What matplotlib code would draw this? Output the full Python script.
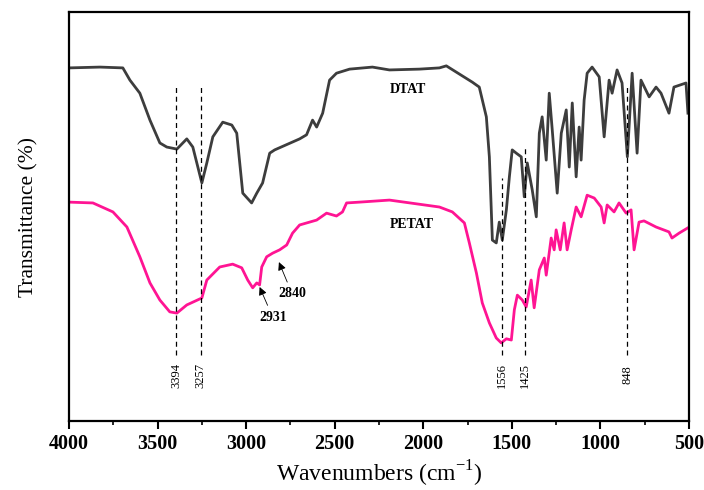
import matplotlib
matplotlib.use("Agg")
import matplotlib.pyplot as plt
from matplotlib.ticker import MultipleLocator

plt.rcParams['font.family'] = ['Liberation Serif', 'DejaVu Serif']

# DTAT spectrum (wavenumber cm-1, transmittance a.u.)
dtat_wn = [4000, 3825, 3696, 3656, 3600, 3543, 3487, 3448, 3391, 3335, 3301, 3250, 3222, 3188,
           3132, 3081, 3053, 3019, 2969, 2940, 2907, 2867, 2839, 2698, 2659, 2625, 2602, 2568,
           2529, 2490, 2416, 2287, 2191, 2022, 1909, 1870, 1723, 1684, 1644, 1627, 1610, 1588,
           1571, 1554, 1531, 1514, 1498, 1475, 1447, 1430, 1413, 1385, 1362, 1345, 1329, 1306,
           1289, 1272, 1244, 1221, 1193, 1176, 1159, 1137, 1120, 1109, 1092, 1075, 1047, 1007,
           979, 951, 934, 906, 878, 848, 821, 793, 771, 725, 686, 658, 613, 585, 517, 506]
dtat_t = [86.3, 86.5, 86.3, 83.3, 80.1, 73.5, 67.9, 66.9, 66.4, 68.9, 66.9, 58.1, 63.0, 69.4,
          73.0, 72.3, 70.3, 55.6, 53.2, 55.6, 58.1, 65.4, 66.2, 68.9, 69.9, 73.5, 71.8, 75.2,
          83.3, 85.0, 86.0, 86.5, 85.8, 86.0, 86.3, 86.8, 82.8, 81.6, 74.3, 64.5, 44.1, 43.4,
          48.5, 44.1, 51.5, 59.6, 66.2, 65.4, 64.5, 54.7, 63.0, 56.4, 49.8, 70.3, 74.3, 63.7,
          80.1, 71.1, 55.6, 70.3, 76.0, 62.0, 77.7, 59.6, 71.8, 63.7, 78.4, 85.0, 86.5, 84.1,
          69.4, 83.3, 80.1, 85.8, 82.6, 64.5, 85.0, 65.4, 83.3, 79.2, 81.6, 80.1, 75.2, 81.6,
          82.6, 75.2]

# PETAT spectrum
petat_wn = [4000, 3865, 3752, 3673, 3600, 3543, 3487, 3431, 3391, 3335, 3250, 3222, 3149, 3076,
            3025, 2991, 2963, 2940, 2924, 2912, 2884, 2850, 2811, 2771, 2738, 2698, 2602, 2546,
            2490, 2456, 2433, 2360, 2191, 1909, 1836, 1768, 1740, 1700, 1667, 1627, 1588, 1560,
            1531, 1503, 1486, 1469, 1441, 1419, 1391, 1374, 1345, 1317, 1306, 1278, 1261, 1250,
            1227, 1205, 1188, 1165, 1137, 1109, 1075, 1035, 996, 979, 962, 923, 895, 855, 827,
            810, 782, 754, 686, 613, 596, 556, 506]
petat_t = [53.4, 53.2, 51.0, 47.3, 40.0, 33.6, 29.4, 26.5, 26.2, 28.2, 29.9, 34.3, 37.5, 38.2,
           37.3, 34.3, 32.4, 33.6, 33.1, 37.5, 40.0, 40.9, 41.7, 42.9, 45.8, 47.8, 49.0, 50.7,
           50.0, 51.0, 53.2, 53.4, 53.9, 52.2, 51.0, 48.3, 43.4, 36.0, 28.7, 23.8, 20.1, 18.9,
           19.9, 19.6, 27.0, 30.6, 29.4, 27.7, 34.3, 27.5, 36.8, 39.7, 35.5, 44.6, 41.7, 46.6,
           41.7, 48.3, 41.7, 46.6, 52.2, 49.8, 55.1, 54.4, 52.2, 48.3, 52.7, 51.0, 53.2, 50.7,
           51.5, 41.7, 48.5, 48.8, 47.3, 46.1, 44.6, 45.8, 47.1]

# Marked peaks: wavenumber, top of dashed line
peak_wn = [3394, 3257, 1556, 1425, 848]
peak_top = [81.9, 81.9, 59.3, 66.9, 81.6]
peak_labels = ['3394', '3257', '1556', '1425', '848']
dash_bottom = 15.9
label_y = 11.0

fig = plt.figure(figsize=(7.04, 4.90), dpi=100)
ax = fig.add_axes([0.098, 0.1408, 0.8807, 0.8347])

ax.plot(dtat_wn, dtat_t, color='#3d3d3d', lw=2.0)
ax.plot(petat_wn, petat_t, color='#ff1493', lw=2.0)

for w, top, lab in zip(peak_wn, peak_top, peak_labels):
    ax.plot([w, w], [dash_bottom, top], color='black', lw=0.9, ls=(0, (4, 3)))
    ax.text(w, label_y, lab, rotation=90, ha='center', va='center', fontsize=9)

ax.text(2084, 80.9, 'DTAT', ha='center', va='center', fontsize=10, fontweight='bold')
ax.text(2067, 47.8, 'PETAT', ha='center', va='center', fontsize=10, fontweight='bold')

ax.annotate('2931', xy=(2924, 32.6), xytext=(2850, 25.2), ha='center', va='center',
            fontsize=10, fontweight='bold',
            arrowprops=dict(arrowstyle='-|>', color='black', lw=0.6, mutation_scale=12,
                            shrinkA=2, shrinkB=0))
ax.annotate('2840', xy=(2815, 38.7), xytext=(2740, 30.9), ha='center', va='center',
            fontsize=10, fontweight='bold',
            arrowprops=dict(arrowstyle='-|>', color='black', lw=0.6, mutation_scale=12,
                            shrinkA=2, shrinkB=0))

ax.set_xlim(4000, 500)
ax.set_ylim(-0.25, 100)
ax.xaxis.set_major_locator(MultipleLocator(500))
ax.xaxis.set_minor_locator(MultipleLocator(250))
ax.set_yticks([])
ax.tick_params(axis='x', which='major', direction='out', length=6, width=1.5, labelsize=14.5, pad=3)
ax.tick_params(axis='x', which='minor', direction='out', length=3, width=1.2)
for lab in ax.get_xticklabels():
    lab.set_fontweight('bold')
for s in ax.spines.values():
    s.set_linewidth(1.6)

ax.set_xlabel('Wavenumbers (cm$^{\\mathregular{-1}}$)', fontsize=17, labelpad=4)
ax.set_ylabel('Transmittance (%)', fontsize=15.5, labelpad=22)

fig.savefig('out.png', dpi=100)
